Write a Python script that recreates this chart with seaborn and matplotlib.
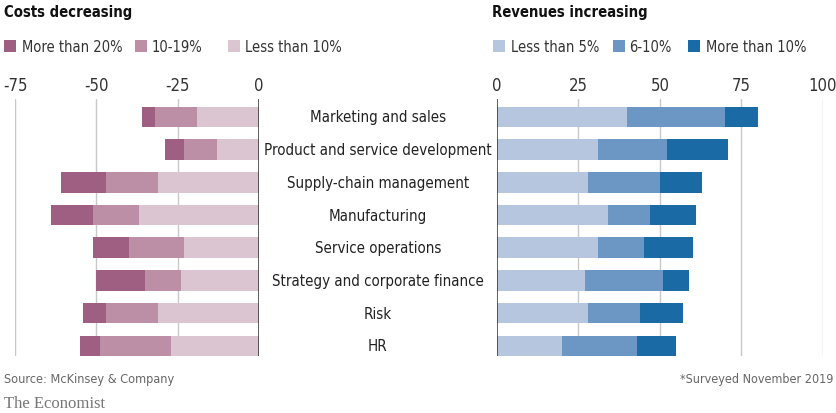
import matplotlib
matplotlib.use("Agg")
import matplotlib.pyplot as plt
import matplotlib.transforms as mtransforms
from matplotlib.patches import Rectangle
import seaborn as sns

categories = [
    "Marketing and sales",
    "Product and service development",
    "Supply-chain management",
    "Manufacturing",
    "Service operations",
    "Strategy and corporate finance",
    "Risk",
    "HR",
]

# Share of respondents reporting cost decreases, by size of decrease
cost_less_10 = [19, 13, 31, 37, 23, 24, 31, 27]
cost_10_19 = [13, 10, 16, 14, 17, 11, 16, 22]
cost_over_20 = [4, 6, 14, 13, 11, 15, 7, 6]

# Share of respondents reporting revenue increases, by size of increase
rev_less_5 = [40, 31, 28, 34, 31, 27, 28, 20]
rev_6_10 = [30, 21, 22, 13, 14, 24, 16, 23]
rev_over_10 = [10, 19, 13, 14, 15, 8, 13, 12]

cost_ticks = [-75, -50, -25, 0]
rev_ticks = [0, 25, 50, 75, 100]

cost_labels = ["More than 20%", "10-19%", "Less than 10%"]
rev_labels = ["Less than 5%", "6-10%", "More than 10%"]

cost_colors = ["#9e5f83", "#bd8fa6", "#dbc5d1"]
rev_colors = ["#b5c6de", "#6c96c4", "#1a6aa6"]

sns.set_theme(style="white")
plt.rcParams["font.family"] = ["Liberation Sans Narrow", "DejaVu Sans"]
plt.rcParams["font.stretch"] = "condensed"

W, H = 837, 414
fig = plt.figure(figsize=(W / 100, H / 100), dpi=100)


def fx(px):
    return px / W


def fy(py):
    return 1 - py / H


axL = fig.add_axes([fx(15), fy(357), fx(259) - fx(15), fy(100) - fy(357)])
axR = fig.add_axes([fx(497), fy(357), fx(823) - fx(497), fy(100) - fy(357)])

# Left panel: stacked leftwards from zero, lightest segment nearest the axis
c_inner = [-a for a in cost_less_10]
c_mid = [-(a + b) for a, b in zip(cost_less_10, cost_10_19)]
c_outer = [-(a + b + c) for a, b, c in zip(cost_less_10, cost_10_19, cost_over_20)]
for vals, col in [(c_outer, cost_colors[0]), (c_mid, cost_colors[1]), (c_inner, cost_colors[2])]:
    sns.barplot(x=vals, y=categories, orient="h", color=col, width=0.63,
                saturation=1, linewidth=0, errorbar=None, ax=axL, zorder=2)

# Right panel: stacked rightwards from zero
r_inner = list(rev_less_5)
r_mid = [a + b for a, b in zip(rev_less_5, rev_6_10)]
r_outer = [a + b + c for a, b, c in zip(rev_less_5, rev_6_10, rev_over_10)]
for vals, col in [(r_outer, rev_colors[2]), (r_mid, rev_colors[1]), (r_inner, rev_colors[0])]:
    sns.barplot(x=vals, y=categories, orient="h", color=col, width=0.63,
                saturation=1, linewidth=0, errorbar=None, ax=axR, zorder=2)

for ax, ticks, lims in [(axL, cost_ticks, (-75, 0)), (axR, rev_ticks, (0, 100))]:
    ax.set_xlim(*lims)
    ax.set_ylim(7.31, -0.55)
    ax.set_xticks(ticks)
    ax.set_xticklabels([str(t) for t in ticks])
    ax.xaxis.tick_top()
    ax.tick_params(axis="x", length=0, pad=3.5, labelsize=12, labelcolor="#333333")
    ax.set_yticks([])
    ax.set_xlabel("")
    ax.set_ylabel("")
    for s in ax.spines.values():
        s.set_visible(False)
    for t in ticks:
        if t != 0:
            ax.axvline(t, color="#c9c9c9", lw=1, zorder=0)
    ax.axvline(0, color="#333333", lw=1.1, zorder=3)

# Category names centred between the panels
trans = mtransforms.blended_transform_factory(fig.transFigure, axL.transData)
for i, name in enumerate(categories):
    axL.text(fx(378), i, name, transform=trans, ha="center", va="center",
             fontsize=10.8, color="#222222", clip_on=False)

# Titles
fig.text(fx(4), fy(12), "Costs decreasing", fontsize=10.6, fontweight="bold",
         color="#111111", va="center", ha="left")
fig.text(fx(492), fy(12), "Revenues increasing", fontsize=10.6, fontweight="bold",
         color="#111111", va="center", ha="left")


# Legends
def legend_item(px, tx, color, label):
    fig.add_artist(Rectangle((fx(px), fy(53)), fx(12), fy(41) - fy(53),
                             transform=fig.transFigure, color=color, lw=0))
    fig.text(fx(tx), fy(47), label, fontsize=10.5, color="#333333",
             va="center", ha="left")


for px, tx, col, lab in zip([4, 135, 228], [22, 152, 245], cost_colors, cost_labels):
    legend_item(px, tx, col, lab)
for px, tx, col, lab in zip([493, 613, 688], [511, 629, 706], rev_colors, rev_labels):
    legend_item(px, tx, col, lab)

# Footer
fig.text(fx(4), fy(380), "Source: McKinsey & Company", fontsize=9.1,
         color="#666666", va="center", ha="left")
fig.text(fx(833), fy(380), "*Surveyed November 2019", fontsize=9,
         color="#666666", va="center", ha="right")
fig.text(fx(4), fy(404), "The Economist", fontsize=12, color="#777777",
         family="Liberation Serif", va="center", ha="left")

fig.savefig("out.png", dpi=100)
